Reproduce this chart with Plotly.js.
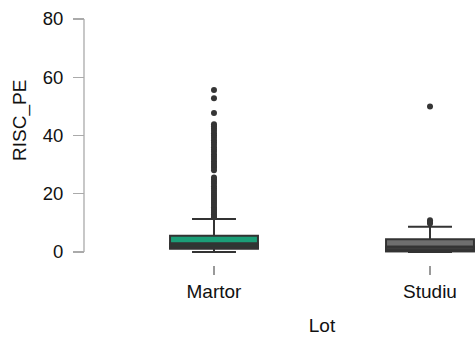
<!DOCTYPE html>
<html>
<head>
<meta charset="utf-8">
<script src="https://cdn.plot.ly/plotly-3.0.1.min.js"></script>
<style>html,body{margin:0;padding:0;background:#fff;}#chart{width:475px;height:337px;}</style>
</head>
<body>
<div id="chart"></div>
<script>
// Data
const categories = ['Martor', 'Studiu'];
const q1 = [1.2, 0.25];
const median = [2.9, 1.8];
const q3 = [5.6, 4.4];
const lowerFence = [0.0, 0.0];
const upperFence = [11.3, 8.7];
const outliersMartor = [55.6, 52.8, 47.7, 43.9, 43.2, 42.4, 41.6, 40.8, 40.0, 39.2, 38.4, 37.6, 36.8, 36.0,
  35.2, 34.4, 33.5, 32.7, 31.9, 31.1, 30.3, 29.5, 28.9, 28.1, 25.6, 24.9, 24.1, 23.4, 22.6, 21.8,
  21.0, 20.3, 19.6, 18.9, 18.2, 17.5, 16.8, 16.1, 15.4, 14.8, 14.2, 13.6, 13.0, 12.4, 11.9];
const outliersStudiu = [50.0, 10.9, 10.3, 9.8];
const fillColors = ['#1b9e77', '#6e6e6e'];
const lowerFillColors = ['#2c3833', '#3c3c3c'];
const yTicks = [0, 20, 40, 60, 80];

const edge = '#333333';
const traces = [];
categories.forEach((c, i) => {
  traces.push({
    type: 'box', x: [c], q1: [q1[i]], median: [median[i]], q3: [q3[i]],
    lowerfence: [lowerFence[i]], upperfence: [upperFence[i]],
    fillcolor: fillColors[i], line: {color: edge, width: 2}, whiskerwidth: 0.5,
    boxpoints: false, showlegend: false, hoverinfo: 'skip'
  });
  traces.push({
    type: 'box', x: [c], q1: [q1[i]], median: [q1[i]], q3: [median[i]],
    lowerfence: [q1[i]], upperfence: [median[i]],
    fillcolor: lowerFillColors[i], line: {color: edge, width: 2}, whiskerwidth: 0,
    boxpoints: false, showlegend: false, hoverinfo: 'skip'
  });
});
traces.push({
  type: 'scatter', mode: 'markers',
  x: outliersMartor.map(() => categories[0]), y: outliersMartor,
  marker: {color: '#353535', size: 6}, showlegend: false, hoverinfo: 'skip', cliponaxis: false
});
traces.push({
  type: 'scatter', mode: 'markers',
  x: outliersStudiu.map(() => categories[1]), y: outliersStudiu,
  marker: {color: '#353535', size: 6}, showlegend: false, hoverinfo: 'skip', cliponaxis: false
});

const font = {family: 'Liberation Sans, Arial, sans-serif', size: 19, color: '#111111'};
const yFont = {family: 'Liberation Sans, Arial, sans-serif', size: 18.5, color: '#111111'};
const layout = {
  width: 475, height: 337,
  margin: {l: 84, r: 0, t: 10, b: 72},
  paper_bgcolor: '#ffffff', plot_bgcolor: '#ffffff',
  font: font,
  boxmode: 'overlay', boxgap: 0.593, boxgroupgap: 0,
  xaxis: {
    type: 'category', categoryorder: 'array', categoryarray: categories,
    domain: [0.2174, 1], range: [-0.2083, 1.2083],
    showline: false, showgrid: false, zeroline: false,
    ticks: 'outside', ticklen: 9, tickwidth: 1.3, tickcolor: '#999999',
    tickfont: font,
    title: {text: 'Lot', font: font, standoff: 17}
  },
  yaxis: {
    anchor: 'free', position: 0,
    range: [-4.46, 83.09],
    tickvals: yTicks, ticktext: yTicks.map(String),
    showline: false, showgrid: false, zeroline: false,
    ticks: 'outside', ticklen: 11, tickwidth: 1.3, tickcolor: '#aaaaaa',
    ticklabelstandoff: 6,
    tickfont: yFont
  },
  shapes: [{
    type: 'line', xref: 'paper', yref: 'y', x0: 0, x1: 0, y0: yTicks[0], y1: yTicks[yTicks.length - 1],
    line: {color: '#aaaaaa', width: 1.3}, layer: 'below'
  }],
  annotations: [{
    text: 'RISC_PE', xref: 'paper', yref: 'paper', x: -0.1637, y: 0.5686,
    xanchor: 'center', yanchor: 'middle', textangle: -90, showarrow: false, font: font
  }]
};
Plotly.newPlot('chart', traces, layout, {staticPlot: true, displayModeBar: false});
</script>
</body>
</html>
